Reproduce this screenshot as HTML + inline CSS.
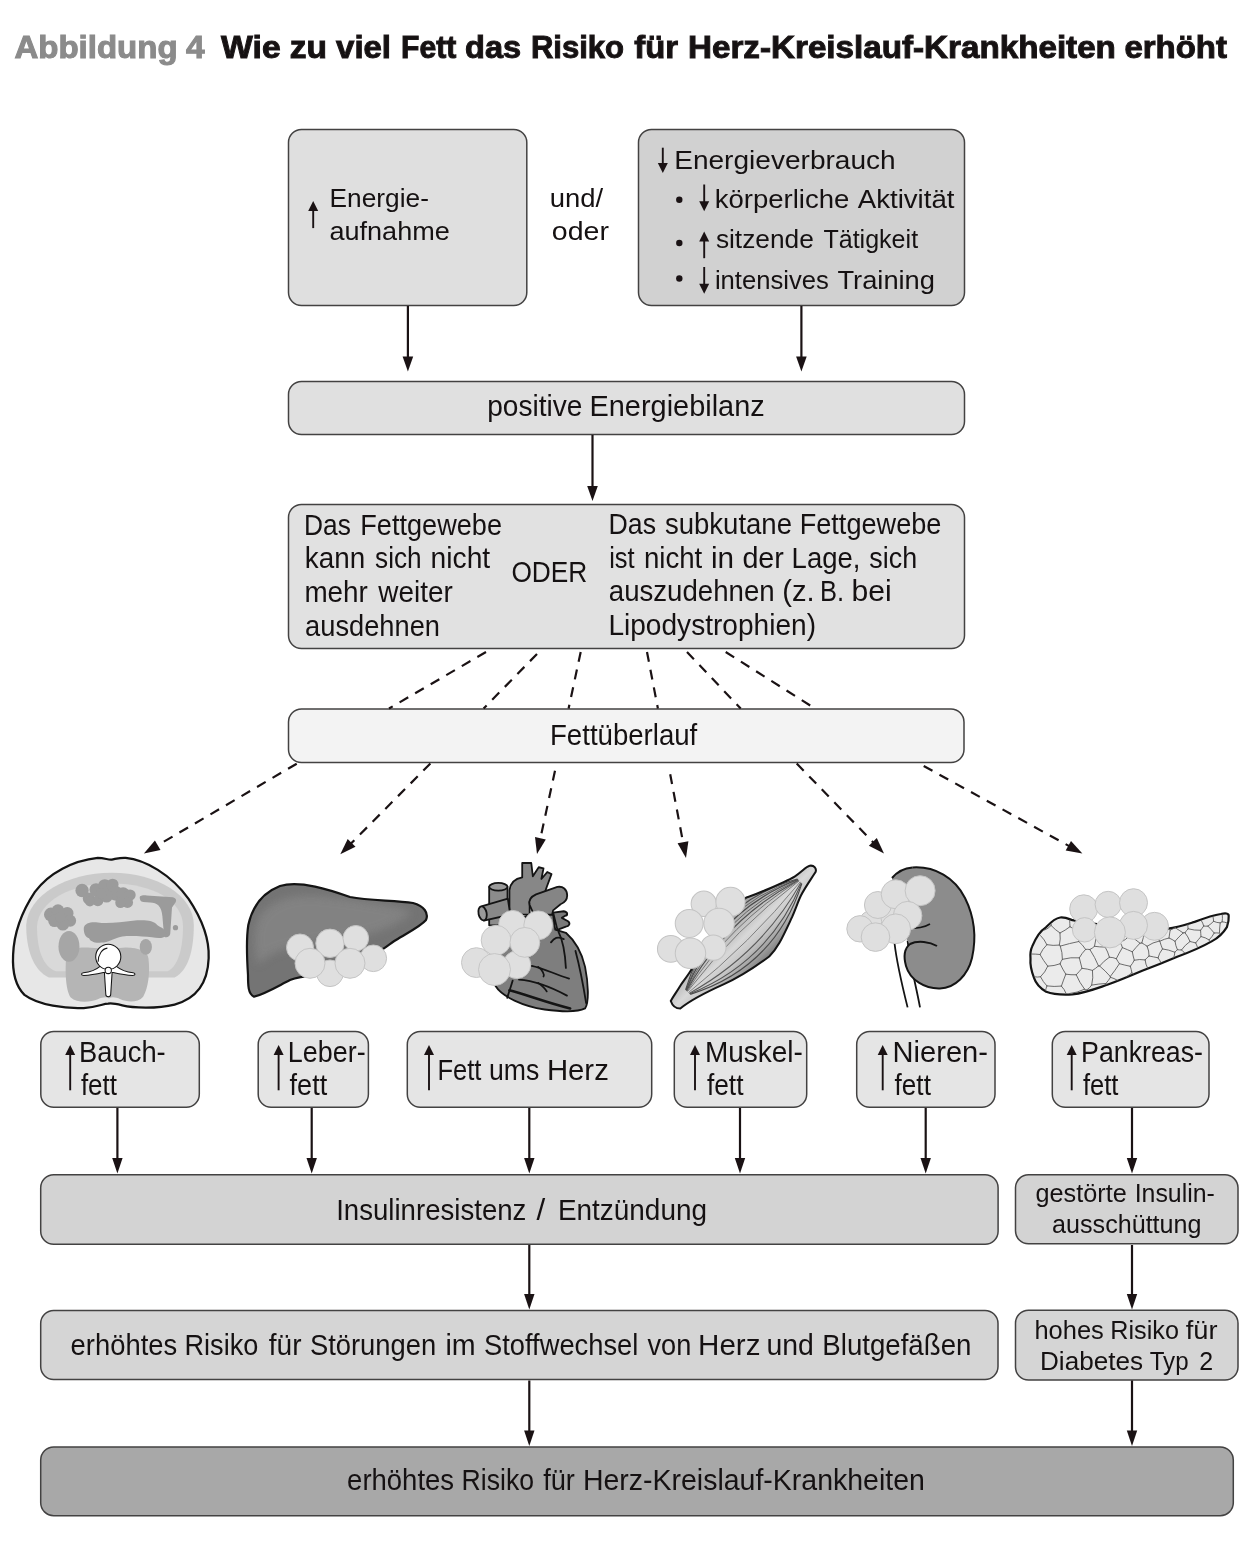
<!DOCTYPE html>
<html><head><meta charset="utf-8"><style>
html,body{margin:0;padding:0;background:#fff;width:1260px;height:1548px;overflow:hidden}
svg{display:block;will-change:transform}
text{font-family:"Liberation Sans",sans-serif;fill:#151112}
.b{stroke:#434242;stroke-width:1.5}
.t{font-size:29px}
.s{font-size:26.5px}
.ln{stroke:#1a1214;stroke-width:2.2;fill:none}
.ah{fill:#1a1214}
.d{stroke:#1a1214;stroke-width:2.2;fill:none;stroke-dasharray:10 8}
</style></head><body>
<svg width="1260" height="1548" viewBox="0 0 1260 1548">
<!-- title -->

<!-- top boxes -->
<rect class="b" x="288.5" y="129.5" width="238.3" height="176" rx="13" fill="#dfdfdf"/>
<rect class="b" x="638.5" y="129.5" width="326" height="176" rx="13" fill="#d1d1d1"/>

<!-- PE / FG / FU -->
<rect class="b" x="288.5" y="381.5" width="676" height="53" rx="13" fill="#e0e0e0"/>
<rect class="b" x="288.5" y="504.5" width="676" height="144" rx="13" fill="#e1e1e1"/>
<rect class="b" x="288.5" y="709" width="675.5" height="53.5" rx="13" fill="#f3f3f3"/>

<!-- small boxes -->
<rect class="b" x="40.8" y="1031.5" width="158.5" height="75.8" rx="13" fill="#e5e5e5"/>
<rect class="b" x="258.2" y="1031.5" width="110.2" height="75.8" rx="13" fill="#e5e5e5"/>
<rect class="b" x="407.3" y="1031.5" width="244.4" height="75.8" rx="13" fill="#e5e5e5"/>
<rect class="b" x="674.3" y="1031.5" width="132.4" height="75.8" rx="13" fill="#e5e5e5"/>
<rect class="b" x="856.7" y="1031.5" width="138.3" height="75.8" rx="13" fill="#e5e5e5"/>
<rect class="b" x="1052.3" y="1031.5" width="156.7" height="75.8" rx="13" fill="#e5e5e5"/>

<!-- lower boxes -->
<rect class="b" x="40.7" y="1174.7" width="957.4" height="69.6" rx="13" fill="#d3d3d3"/>
<rect class="b" x="1015.5" y="1174.8" width="222.5" height="69" rx="13" fill="#d3d3d3"/>
<rect class="b" x="40.7" y="1310.5" width="957.3" height="69" rx="13" fill="#d5d5d5"/>
<rect class="b" x="1015.5" y="1310.2" width="222.5" height="69.8" rx="13" fill="#d5d5d5"/>
<rect class="b" x="40.7" y="1447" width="1192.6" height="68.7" rx="13" fill="#a8a8a8"/>

<!-- solid arrows -->
<g>
<line class="ln" x1="407.9" y1="306" x2="407.9" y2="358"/><path class="ah" d="M402.6 356.4 L413.2 356.4 L407.9 371.5Z"/>
<line class="ln" x1="801.4" y1="306" x2="801.4" y2="358"/><path class="ah" d="M796.1 356.4 L806.7 356.4 L801.4 371.5Z"/>
<line class="ln" x1="592.5" y1="435" x2="592.5" y2="488"/><path class="ah" d="M587.2 486.1 L597.8 486.1 L592.5 501Z"/>

<line class="ln" x1="117.4" y1="1108" x2="117.4" y2="1160"/><path class="ah" d="M112.2 1158.1 L122.6 1158.1 L117.4 1173.5Z"/>
<line class="ln" x1="311.7" y1="1108" x2="311.7" y2="1160"/><path class="ah" d="M306.5 1158.1 L316.9 1158.1 L311.7 1173.5Z"/>
<line class="ln" x1="529.3" y1="1108" x2="529.3" y2="1160"/><path class="ah" d="M524.1 1158.1 L534.5 1158.1 L529.3 1173.5Z"/>
<line class="ln" x1="740" y1="1108" x2="740" y2="1160"/><path class="ah" d="M734.8 1158.1 L745.2 1158.1 L740 1173.5Z"/>
<line class="ln" x1="925.7" y1="1108" x2="925.7" y2="1160"/><path class="ah" d="M920.5 1158.1 L930.9 1158.1 L925.7 1173.5Z"/>
<line class="ln" x1="1132" y1="1108" x2="1132" y2="1160"/><path class="ah" d="M1126.8 1158.1 L1137.2 1158.1 L1132 1173.5Z"/>

<line class="ln" x1="529.3" y1="1245" x2="529.3" y2="1296"/><path class="ah" d="M524.1 1294 L534.5 1294 L529.3 1309.5Z"/>
<line class="ln" x1="1132" y1="1245" x2="1132" y2="1296"/><path class="ah" d="M1126.8 1294 L1137.2 1294 L1132 1309.5Z"/>
<line class="ln" x1="529.3" y1="1380.5" x2="529.3" y2="1432"/><path class="ah" d="M524.1 1430.5 L534.5 1430.5 L529.3 1446Z"/>
<line class="ln" x1="1132" y1="1380.5" x2="1132" y2="1432"/><path class="ah" d="M1126.8 1430.5 L1137.2 1430.5 L1132 1446Z"/>
</g>

<!-- dashed lines FG -> FU -->
<g>
<line class="d" x1="486" y1="652" x2="389" y2="708.5"/>
<line class="d" x1="537" y1="654" x2="483.6" y2="708.5"/>
<line class="d" x1="580.7" y1="652" x2="568.6" y2="708.5"/>
<line class="d" x1="647" y1="652" x2="657.9" y2="708.5"/>
<line class="d" x1="687" y1="652" x2="740.7" y2="708.5"/>
<line class="d" x1="725.7" y1="652" x2="815" y2="708.5"/>
</g>

<!-- dashed FU -> organs -->
<g>
<line class="d" x1="296.7" y1="763.7" x2="156.0" y2="846.3"/>
<path class="ah" d="M154.9 840.6 L160.5 850.0 L143.9 853.4Z"/>
<line class="d" x1="430.4" y1="763.5" x2="350.2" y2="844.3"/>
<path class="ah" d="M347.7 839.0 L355.5 846.7 L340.3 854.2Z"/>
<line class="d" x1="555.0" y1="770.7" x2="540.0" y2="840.2"/>
<path class="ah" d="M535.0 837.1 L545.8 839.4 L537.0 853.9Z"/>
<line class="d" x1="670.2" y1="774.2" x2="683.4" y2="844.2"/>
<path class="ah" d="M677.6 843.3 L688.4 841.3 L686.0 858.0Z"/>
<line class="d" x1="796.7" y1="763.5" x2="874.2" y2="843.4"/>
<path class="ah" d="M868.9 845.8 L876.8 838.1 L884.0 853.4Z"/>
<line class="d" x1="923.7" y1="766.0" x2="1070.1" y2="846.6"/>
<path class="ah" d="M1065.7 850.5 L1071.0 840.9 L1082.4 853.4Z"/>
</g>
<g>
<line class="ln" x1="313.2" y1="209.9" x2="313.2" y2="228.1" style="stroke-width:1.9"/><path class="ah" d="M308.2 210.9 L318.2 210.9 L313.2 200.9Z"/>
<line class="ln" x1="662.8" y1="147.7" x2="662.8" y2="164.0" style="stroke-width:1.9"/><path class="ah" d="M657.8 163.0 L667.8 163.0 L662.8 173.0Z"/>
<line class="ln" x1="704.2" y1="184.5" x2="704.2" y2="202.2" style="stroke-width:1.9"/><path class="ah" d="M699.2 201.2 L709.2 201.2 L704.2 211.2Z"/>
<line class="ln" x1="704.2" y1="240.5" x2="704.2" y2="258.2" style="stroke-width:1.9"/><path class="ah" d="M699.2 241.5 L709.2 241.5 L704.2 231.5Z"/>
<line class="ln" x1="704.2" y1="267.0" x2="704.2" y2="284.7" style="stroke-width:1.9"/><path class="ah" d="M699.2 283.7 L709.2 283.7 L704.2 293.7Z"/>
<circle cx="679.3" cy="199.8" r="3.2" class="ah"/>
<circle cx="679.3" cy="243.0" r="3.2" class="ah"/>
<circle cx="679.3" cy="278.5" r="3.2" class="ah"/>
<line class="ln" x1="70.2" y1="1054.0" x2="70.2" y2="1090.3" style="stroke-width:1.9"/><path class="ah" d="M65.2 1055.0 L75.2 1055.0 L70.2 1045.0Z"/>
<line class="ln" x1="278.6" y1="1054.0" x2="278.6" y2="1090.3" style="stroke-width:1.9"/><path class="ah" d="M273.6 1055.0 L283.6 1055.0 L278.6 1045.0Z"/>
<line class="ln" x1="429.0" y1="1054.0" x2="429.0" y2="1090.3" style="stroke-width:1.9"/><path class="ah" d="M424.0 1055.0 L434.0 1055.0 L429.0 1045.0Z"/>
<line class="ln" x1="695.0" y1="1054.0" x2="695.0" y2="1090.3" style="stroke-width:1.9"/><path class="ah" d="M690.0 1055.0 L700.0 1055.0 L695.0 1045.0Z"/>
<line class="ln" x1="882.7" y1="1054.0" x2="882.7" y2="1090.3" style="stroke-width:1.9"/><path class="ah" d="M877.7 1055.0 L887.7 1055.0 L882.7 1045.0Z"/>
<line class="ln" x1="1071.7" y1="1054.0" x2="1071.7" y2="1090.3" style="stroke-width:1.9"/><path class="ah" d="M1066.7 1055.0 L1076.7 1055.0 L1071.7 1045.0Z"/>
</g>
<!-- ORGANS -->
<defs>
<filter id="soft" x="-20%" y="-20%" width="140%" height="140%"><feGaussianBlur stdDeviation="4"/></filter>
<radialGradient id="fat" cx="0.5" cy="0.5" r="0.5">
<stop offset="0" stop-color="#e4e4e4"/><stop offset="1" stop-color="#d6d6d6"/>
</radialGradient>
<linearGradient id="musc" x1="0" y1="0" x2="1" y2="1">
<stop offset="0" stop-color="#b4b4b4"/><stop offset="0.45" stop-color="#dadada"/><stop offset="0.6" stop-color="#e9e9e9"/><stop offset="1" stop-color="#9a9a9a"/>
</linearGradient>
</defs>
<g id="abd" transform="translate(0 850) scale(0.17461)">
<path d="M560 45 C600 45 620 58 640 55 C660 52 690 42 720 45 C830 55 980 140 1080 280 C1160 400 1200 520 1195 620 C1190 760 1130 850 1000 885 C900 910 760 905 700 890 C660 880 640 875 620 880 C590 880 560 900 480 905 C380 910 220 890 140 830 C90 780 70 700 75 600 C80 480 120 360 200 240 C280 130 420 60 560 45Z" fill="#e7e7e7" stroke="#141414" stroke-width="13"/>
<path d="M150 430 C160 260 380 130 640 130 C900 130 1110 260 1110 430 C1110 570 1080 690 1000 730 L280 730 C190 690 150 570 150 430Z" fill="#cacaca"/>
<path d="M212 435 C222 295 400 192 640 192 C880 192 1048 295 1048 435 C1048 565 1020 665 960 695 L320 695 C242 665 212 565 212 435Z" fill="#d9d9d9"/>
<path d="M380 600 C390 565 450 555 520 560 L610 565 L630 565 L720 558 C800 560 845 580 850 620 C860 700 850 790 820 840 C790 875 730 872 690 855 C660 842 640 840 625 850 C610 840 590 842 560 855 C520 872 440 878 405 845 C375 800 372 690 380 600Z" fill="#b5b5b5"/>
<g fill="#9b9b9b"><circle cx="470" cy="232" r="38"/><circle cx="508" cy="278" r="34"/><circle cx="550" cy="228" r="38"/><circle cx="600" cy="205" r="38"/><circle cx="645" cy="198" r="34"/><circle cx="662" cy="248" r="42"/><circle cx="705" cy="252" r="38"/><circle cx="745" cy="258" r="32"/><circle cx="730" cy="300" r="32"/><circle cx="690" cy="302" r="30"/><circle cx="560" cy="290" r="32"/><circle cx="515" cy="295" r="28"/><circle cx="610" cy="265" r="36"/><circle cx="580" cy="250" r="30"/><circle cx="292" cy="370" r="40"/><circle cx="332" cy="347" r="36"/><circle cx="385" cy="362" r="36"/><circle cx="402" cy="405" r="34"/><circle cx="360" cy="425" r="36"/><circle cx="312" cy="405" r="36"/><circle cx="345" cy="385" r="30"/>
<path d="M800 270 C800 262 820 258 840 260 L990 270 C1010 275 1012 290 1005 300 L985 330 L975 480 C972 500 950 505 940 495 L930 380 C925 320 900 300 860 300 L820 298 C805 296 800 285 800 270Z"/>
<path d="M480 445 C485 420 520 410 560 415 C620 425 700 410 760 405 C820 400 880 400 900 430 C920 445 960 455 950 490 C935 510 900 505 870 500 C820 495 760 490 700 495 C650 505 620 530 580 530 C540 535 515 520 510 505 C490 500 478 475 480 445Z"/>
<circle cx="1005" cy="445" r="15"/>
</g>
<ellipse cx="395" cy="552" rx="60" ry="88" fill="#a6a6a6"/>
<ellipse cx="835" cy="555" rx="35" ry="45" fill="#a6a6a6"/>
<g fill="#fff" stroke="#151515" stroke-width="6">
<path d="M575 665 C545 690 510 700 478 703 C463 705 463 719 480 719 C520 717 560 709 592 702 L598 702 L606 828 C607 844 633 844 634 828 L642 702 L648 702 C680 709 720 717 760 719 C777 719 777 705 762 703 C730 700 695 690 665 665Z"/>
<circle cx="620" cy="612" r="72"/>
<path d="M562 640 C562 600 585 565 615 562" fill="none"/>
<circle cx="620" cy="690" r="18"/>
</g>
</g>

<g id="liver">
<clipPath id="lclip"><path d="M248.3 925 C252 908 262 893 280 886 C300 880 330 890 350 897 C370 901 395 900 413 903 C424 906 429 913 426 920 C420 927 405 934 396 940 C385 947 370 960 346.7 970 C325 976 305 974 290 980 C278 986 265 994 254 996.7 C248 994 248 985 248 975 C247 960 246 940 248.3 925Z"/></clipPath>
<path d="M248.3 925 C252 908 262 893 280 886 C300 880 330 890 350 897 C370 901 395 900 413 903 C424 906 429 913 426 920 C420 927 405 934 396 940 C385 947 370 960 346.7 970 C325 976 305 974 290 980 C278 986 265 994 254 996.7 C248 994 248 985 248 975 C247 960 246 940 248.3 925Z" fill="#747474"/>
<g clip-path="url(#lclip)"><path d="M256 925 C262 905 285 893 320 896 C360 900 395 905 412 912 C395 928 370 936 335 940 C300 944 270 950 258 965 C254 950 254 935 256 925Z" fill="#858585" opacity="0.85" filter="url(#soft)"/></g>
<path d="M248.3 925 C252 908 262 893 280 886 C300 880 330 890 350 897 C370 901 395 900 413 903 C424 906 429 913 426 920 C420 927 405 934 396 940 C385 947 370 960 346.7 970 C325 976 305 974 290 980 C278 986 265 994 254 996.7 C248 994 248 985 248 975 C247 960 246 940 248.3 925Z" fill="none" stroke="#141414" stroke-width="2.2"/>
<g fill="#dfdfdf" stroke="#c4c4c4" stroke-width="1">
<circle cx="300" cy="947.5" r="13.5"/>
<circle cx="330" cy="943.3" r="14.2"/>
<circle cx="355.8" cy="938.3" r="12.8"/>
<circle cx="373.3" cy="958.3" r="13.3"/>
<circle cx="330" cy="973.3" r="13.3"/>
<circle cx="310" cy="963.3" r="15"/>
<circle cx="350" cy="963.3" r="15"/>
</g>
</g>

<g id="heart" transform="translate(470 855) scale(0.10655)" stroke="#141414" stroke-width="17" stroke-linejoin="round">
<path d="M240 1230 C300 1330 500 1420 700 1450 C850 1470 1000 1480 1080 1440 C1120 1380 1110 1200 1080 1050 C1050 920 980 800 900 730 L800 700 L780 560 L570 560 L400 620 L300 700 L200 900 Z" fill="#7e7e7e"/>
<path d="M180 300 L180 660 L352 660 L352 300 Z" fill="#8c8c8c"/>
<ellipse cx="266" cy="298" rx="86" ry="36" fill="#9a9a9a"/>
<path d="M370 560 L370 330 C380 260 430 220 490 210 L490 75 L575 75 L590 200 L645 115 L690 125 L670 225 L725 160 L765 180 L720 300 L700 360 L600 400 L560 450 L560 560 Z" fill="#878787"/>
<path d="M115 480 L355 410 L378 560 L130 615 Z" fill="#888"/>
<ellipse cx="118" cy="548" rx="38" ry="67" fill="#9a9a9a" transform="rotate(-12 118 548)"/>
<path d="M560 470 C545 420 575 390 620 370 L820 300 C870 290 912 320 912 380 C912 430 880 450 850 462 L780 520 L770 560 L600 560 Z" fill="#858585"/>
<path d="M780 540 L880 528 C922 535 920 568 890 572 L862 590 L920 622 C946 642 930 672 900 672 L820 702 Z" fill="#7a7a7a"/>
<g fill="none" stroke-linecap="round">
<path d="M830 720 C860 780 890 870 900 1060"/>
<path d="M760 820 C790 780 820 760 880 790"/>
<path d="M580 1040 C680 1060 800 1120 930 1160"/>
<path d="M640 1050 C680 1080 700 1120 690 1140"/>
<path d="M460 1170 C600 1180 780 1250 910 1320"/>
<path d="M640 1200 C680 1230 710 1260 720 1280"/>
<path d="M370 1270 C500 1300 700 1380 940 1440" stroke-width="24"/>
<path d="M400 1180 C380 1250 360 1300 350 1340"/>
<path d="M990 900 C1030 1050 1060 1200 1090 1390"/>
</g>
<g fill="#dfdfdf" stroke="#c4c4c4" stroke-width="9">
<circle cx="400" cy="650" r="130"/>
<circle cx="640" cy="660" r="135"/>
<circle cx="60" cy="1010" r="140"/>
<circle cx="440" cy="1030" r="130"/>
<circle cx="245" cy="800" r="140"/>
<circle cx="515" cy="820" r="140"/>
<circle cx="230" cy="1075" r="150"/>
</g>
</g>

<g id="muscle" transform="translate(660 860) scale(0.12698)">
<linearGradient id="musc3" gradientUnits="userSpaceOnUse" x1="490" y1="490" x2="815" y2="815">
<stop offset="0" stop-color="#a0a0a0"/><stop offset="0.22" stop-color="#bababa"/><stop offset="0.45" stop-color="#d8d8d8"/><stop offset="0.65" stop-color="#c6c6c6"/><stop offset="0.85" stop-color="#9c9c9c"/><stop offset="1" stop-color="#7e7e7e"/>
</linearGradient>
<clipPath id="mclip"><path id="mpath" d="M85 1110 C95 1140 110 1170 160 1170 C220 1120 300 1070 500 980 C600 935 700 880 860 760 C930 690 960 620 1040 450 C1070 380 1090 320 1110 280 C1140 220 1170 180 1225 95 C1235 70 1215 40 1180 45 C1150 50 1110 100 1060 130 C1000 165 940 190 800 250 C740 275 700 290 680 295 C600 360 560 420 520 480 C480 540 440 590 400 640 C350 710 320 750 300 780 C270 830 250 860 230 890 C200 935 180 960 160 990 C130 1040 100 1080 85 1110 Z"/></clipPath>
<path d="M85 1110 C95 1140 110 1170 160 1170 C220 1120 300 1070 500 980 C600 935 700 880 860 760 C930 690 960 620 1040 450 C1070 380 1090 320 1110 280 C1140 220 1170 180 1225 95 C1235 70 1215 40 1180 45 C1150 50 1110 100 1060 130 C1000 165 940 190 800 250 C740 275 700 290 680 295 C600 360 560 420 520 480 C480 540 440 590 400 640 C350 710 320 750 300 780 C270 830 250 860 230 890 C200 935 180 960 160 990 C130 1040 100 1080 85 1110 Z" fill="url(#musc3)"/>
<g clip-path="url(#mclip)" fill="none">
<path d="M202 1022 Q399 343 1082 150" stroke="#4a4a4a" stroke-width="9"/><path d="M204 1024 Q427 371 1084 152" stroke="#5a5a5a" stroke-width="7"/><path d="M206 1026 Q455 400 1086 154" stroke="#4a4a4a" stroke-width="9"/><path d="M208 1028 Q488 432 1088 157" stroke="#5a5a5a" stroke-width="7"/><path d="M210 1030 Q519 463 1090 159" stroke="#505050" stroke-width="8"/><path d="M213 1033 Q554 499 1093 162" stroke="#6a6a6a" stroke-width="7"/><path d="M216 1036 Q597 541 1096 164" stroke="#707070" stroke-width="7"/><path d="M224 1044 Q710 654 1104 172" stroke="#757575" stroke-width="7"/><path d="M230 1050 Q795 739 1110 178" stroke="#5a5a5a" stroke-width="8"/><path d="M234 1054 Q858 803 1114 183" stroke="#505050" stroke-width="8"/><path d="M238 1058 Q904 848 1117 186" stroke="#4a4a4a" stroke-width="9"/>
</g>
<path d="M85 1110 C95 1140 110 1170 160 1170 C220 1120 300 1070 500 980 C600 935 700 880 860 760 C930 690 960 620 1040 450 C1070 380 1090 320 1110 280 C1140 220 1170 180 1225 95 C1235 70 1215 40 1180 45 C1150 50 1110 100 1060 130 C1000 165 940 190 800 250 C740 275 700 290 680 295 C600 360 560 420 520 480 C480 540 440 590 400 640 C350 710 320 750 300 780 C270 830 250 860 230 890 C200 935 180 960 160 990 C130 1040 100 1080 85 1110 Z" fill="none" stroke="#141414" stroke-width="16"/>
<g fill="#dfdfdf" stroke="#c4c4c4" stroke-width="8">
<circle cx="345" cy="345" r="100"/>
<circle cx="555" cy="330" r="115"/>
<circle cx="230" cy="500" r="110"/>
<circle cx="465" cy="500" r="120"/>
<circle cx="85" cy="700" r="105"/>
<circle cx="420" cy="690" r="100"/>
<circle cx="240" cy="735" r="120"/>
</g>
</g>

<g id="kidney">
<path d="M894.5 943 C897 965 902 985 907.6 1007.4 M907.6 940.7 C910 965 916 985 920 1007.4" fill="none" stroke="#141414" stroke-width="1.8"/>
<path d="M912.4 867.5 C935 866 955 878 965 898 C975 918 976 940 972 958 C968 975 955 988 940 988.5 C925 989 910 980 906 966 C903 955 905 948 910 944 L900 930 L892 878 C898 871 905 868 912.4 867.5Z" fill="#8c8c8c"/>
<path d="M912.4 867.5 C935 866 955 878 965 898 C975 918 976 940 972 958 C968 975 955 988 940 988.5 C925 989 910 980 906 966 C903 955 905 948 910 944 C918 940 930 942 937 946" fill="none" stroke="#141414" stroke-width="2"/>
<path d="M892 878 C898 871 905 868 912.4 867.5" fill="none" stroke="#141414" stroke-width="2"/>
<path d="M909 928 C916 929 925 927 930 924" fill="none" stroke="#141414" stroke-width="1.6"/>
<g fill="#dfdfdf" stroke="#c4c4c4" stroke-width="1">
<circle cx="887.4" cy="913.3" r="12.5"/>
<circle cx="870.7" cy="921.7" r="11"/>
<circle cx="877.9" cy="905" r="13.5"/>
<circle cx="895.7" cy="894.3" r="14.5"/>
<circle cx="920.1" cy="890.7" r="15"/>
<circle cx="907.6" cy="915.7" r="14.3"/>
<circle cx="860" cy="928.8" r="13.2"/>
<circle cx="895.7" cy="928.8" r="14.9"/>
<circle cx="875.5" cy="937.1" r="14.3"/>
</g>
</g>

<g id="pancreas">
<path d="M1032.2 946.4 C1036 937 1040 931 1046.2 927.1 C1052 921 1056 918 1060.2 917.5 C1066 917 1069 919 1072.4 920.2 C1100 925 1140 930 1166.7 928.9 C1180 927 1188 924 1194.6 921.9 C1205 918 1214 915 1220.8 914 C1225 913 1229 913 1228.7 916 C1229 920 1228 924 1226.9 927.1 C1222 935 1218 938 1212.1 941.1 C1200 948 1190 952 1177.2 956.8 C1165 962 1155 966 1142.2 970.8 C1130 976 1118 981 1107.3 984.8 C1095 989 1085 993 1072.4 994.4 C1062 995 1052 994 1046.2 991.8 C1040 988 1036 984 1034 977.8 C1031 970 1030 964 1030.5 958.6 C1030 953 1031 949 1032.2 946.4Z" fill="#ebebeb" stroke="#141414" stroke-width="2.2"/>
<path d="M1061.4 986.1Q1064.5 989.2 1066.0 993.3M1065.8 974.2Q1063.4 980.1 1061.4 986.1M1069.2 993.6Q1077.3 992.8 1084.6 989.2M1065.8 974.2Q1071.0 975.0 1076.2 974.8M1076.2 974.8Q1079.4 982.6 1084.6 989.2M1109.4 957.2Q1103.8 960.8 1099.6 966.0M1099.6 966.0Q1105.4 970.8 1110.3 976.5M1116.3 958.7Q1113.0 957.2 1109.4 957.2M1116.3 958.7Q1117.7 961.3 1119.4 963.7M1110.3 976.5Q1115.2 970.3 1119.4 963.7M1061.4 986.1Q1054.1 986.9 1046.9 985.9M1046.9 985.9Q1046.1 988.1 1045.6 990.3M1098.5 965.9Q1095.0 957.3 1089.9 949.5M1098.5 965.9Q1095.7 968.5 1092.5 970.4M1092.5 970.4Q1087.3 968.8 1082.0 968.3M1082.0 968.3Q1080.6 963.0 1079.3 957.8M1079.3 957.8Q1081.9 953.2 1085.6 949.4M1089.9 949.5Q1087.8 949.1 1085.6 949.4M1089.9 949.5Q1092.5 948.3 1094.5 946.3M1109.4 957.2Q1108.0 951.9 1105.2 947.1M1099.6 966.0Q1099.1 965.9 1098.5 965.9M1105.2 947.1Q1099.8 947.1 1094.5 946.3M1113.7 939.3Q1108.6 942.3 1105.2 947.1M1116.3 958.7Q1119.2 953.0 1122.4 947.6M1113.7 939.3Q1117.1 940.8 1120.3 942.7M1122.4 947.6Q1121.8 944.9 1120.3 942.7M1044.6 930.1Q1048.4 928.5 1051.1 925.5M1051.2 924.3Q1051.3 924.9 1051.1 925.5M1046.9 985.9Q1043.0 981.9 1040.5 976.8M1040.5 976.8Q1037.4 977.4 1034.3 976.8M1106.2 984.6Q1106.1 984.0 1105.9 983.5M1105.9 983.5Q1098.7 983.8 1091.7 985.1M1091.7 985.1Q1089.8 988.0 1086.9 989.9M1092.5 970.4Q1093.5 977.9 1091.7 985.1M1110.5 977.3Q1108.5 980.6 1105.9 983.5M1110.3 976.5Q1110.5 976.9 1110.5 977.3M1076.2 974.8Q1079.2 971.6 1082.0 968.3M1084.6 989.2Q1085.7 989.7 1086.9 989.9M1110.5 977.3Q1114.1 978.3 1117.3 980.2M1126.8 976.5Q1129.5 974.8 1131.9 972.8M1119.4 963.7Q1124.8 965.2 1130.3 966.3M1130.3 966.3Q1131.4 969.5 1131.9 972.8M1096.6 931.0Q1096.4 938.8 1094.5 946.3M1096.6 931.0Q1102.0 928.8 1107.8 928.8M1113.7 939.3Q1111.8 935.4 1111.3 931.1M1107.8 928.8Q1109.5 930.0 1111.3 931.1M1089.2 922.4Q1088.9 924.1 1089.3 925.7M1089.3 925.7Q1092.4 929.1 1096.6 931.0M1107.8 928.8Q1107.8 926.5 1107.4 924.2M1040.6 935.6Q1044.6 939.6 1046.9 944.7M1031.6 954.0Q1035.8 954.0 1040.0 954.5M1046.9 944.7Q1042.5 948.9 1040.0 954.5M1040.5 976.8Q1045.2 972.3 1047.8 966.2M1040.0 954.5Q1043.4 960.7 1047.8 966.2M1065.8 974.2Q1062.6 969.2 1060.1 963.8M1047.8 966.2Q1054.2 966.0 1060.1 963.8M1079.3 957.8Q1070.7 957.0 1062.4 959.3M1060.1 963.8Q1060.8 961.3 1062.4 959.3M1060.0 933.0Q1065.3 930.4 1070.0 926.7M1060.0 933.0Q1060.8 939.1 1059.4 945.1M1060.3 946.1Q1059.7 945.7 1059.4 945.1M1060.3 946.1Q1069.4 943.4 1078.8 941.5M1070.0 926.7Q1075.0 929.1 1078.9 932.9M1078.9 932.9Q1078.9 937.2 1078.8 941.5M1069.7 920.1Q1069.7 923.4 1070.0 926.7M1051.1 925.5Q1055.1 929.8 1060.0 933.0M1046.9 944.7Q1053.1 945.9 1059.4 945.1M1062.4 959.3Q1062.5 952.5 1060.3 946.1M1085.6 949.4Q1082.9 944.9 1078.8 941.5M1089.3 925.7Q1083.9 929.0 1078.9 932.9M1122.4 947.6Q1127.4 949.6 1132.3 951.8M1130.3 966.3Q1132.7 963.5 1134.3 960.2M1132.3 951.8Q1133.0 956.0 1134.3 960.2M1131.9 972.8Q1132.5 973.4 1133.2 973.9M1134.3 960.2Q1139.7 958.9 1145.1 959.9M1147.6 968.1Q1145.5 964.3 1145.1 959.9M1111.3 931.1Q1116.3 929.2 1120.1 925.5M1132.3 951.8Q1136.0 947.3 1140.0 943.2M1120.3 942.7Q1126.1 939.8 1130.4 934.9M1130.4 934.9Q1134.7 939.6 1140.0 943.2M1126.4 926.0Q1128.5 927.4 1130.8 928.3M1130.4 934.9Q1130.4 931.6 1130.8 928.3M1130.8 928.3Q1132.1 927.4 1133.5 926.6M1149.1 956.0Q1146.8 957.7 1145.1 959.9M1149.1 956.0Q1153.5 956.9 1158.0 957.8M1158.0 957.8Q1159.7 960.2 1161.0 962.7M1149.1 956.0Q1149.2 950.9 1147.1 946.2M1140.0 943.2Q1140.9 943.0 1141.8 942.9M1147.1 946.2Q1144.5 944.5 1141.8 942.9M1140.7 927.2Q1142.8 930.0 1145.6 932.1M1141.8 942.9Q1143.0 937.3 1145.6 932.1M1173.6 957.7Q1174.8 955.1 1174.8 952.2M1158.0 957.8Q1159.2 952.9 1162.5 948.9M1174.8 952.2Q1168.8 949.7 1162.5 948.9M1147.1 946.2Q1152.7 942.3 1159.4 941.0M1162.5 948.9Q1160.9 945.2 1159.8 941.2M1145.6 932.1Q1150.6 932.1 1155.1 930.0M1154.6 928.4Q1154.8 929.2 1155.1 930.0M1159.4 941.0Q1158.2 935.3 1155.4 930.1M1155.4 930.1Q1156.9 929.5 1158.3 928.7M1183.2 932.9Q1179.2 930.3 1175.2 927.7M1183.2 932.9Q1178.8 936.7 1175.0 941.3M1169.0 938.0Q1172.2 939.3 1175.0 941.3M1169.0 938.0Q1169.5 933.9 1170.2 930.0M1170.2 930.0Q1172.8 929.2 1175.2 927.7M1188.1 928.8Q1186.3 930.6 1185.0 932.7M1185.0 932.7Q1184.1 932.6 1183.2 932.9M1187.9 924.1Q1187.7 926.4 1188.1 928.8M1159.8 941.2Q1164.2 939.0 1169.0 938.0M1174.8 952.2Q1176.2 951.0 1177.4 949.7M1177.4 949.7Q1175.5 945.7 1175.0 941.3M1168.6 928.9Q1169.4 929.4 1170.2 930.0M1190.0 941.5Q1192.8 942.2 1195.7 942.9M1190.0 941.5Q1185.0 944.9 1181.5 949.9M1184.7 952.9Q1182.8 951.7 1181.5 949.9M1197.4 947.0Q1196.6 944.9 1195.7 942.9M1201.0 936.5Q1200.7 933.4 1200.6 930.3M1188.1 928.8Q1194.2 930.5 1200.6 930.3M1201.0 936.5Q1198.3 939.6 1195.7 942.9M1185.0 932.7Q1188.2 936.7 1190.0 941.5M1177.4 949.7Q1179.5 950.1 1181.5 949.9M1209.8 941.6Q1209.6 940.7 1209.1 939.9M1209.1 939.9Q1205.4 937.4 1201.0 936.5M1201.2 920.4Q1203.0 923.0 1203.7 926.0M1207.9 926.1Q1205.8 926.5 1203.7 926.0M1207.9 926.1Q1211.0 924.0 1213.6 921.3M1213.6 921.3Q1213.5 919.0 1213.0 916.9M1200.6 930.3Q1202.1 928.2 1203.7 926.0M1214.2 933.0Q1212.2 936.9 1209.1 939.9M1214.2 933.0Q1211.2 929.4 1207.9 926.1M1214.2 933.0Q1216.8 932.7 1219.4 933.1M1213.6 921.3Q1216.7 922.8 1220.2 922.9M1220.2 922.9Q1219.6 928.0 1219.4 933.1M1222.1 921.8Q1224.6 922.0 1227.0 922.9M1222.1 921.8Q1222.7 918.3 1222.3 914.8M1220.2 922.9Q1221.2 922.5 1222.1 921.8" fill="none" stroke="#5e5e5e" stroke-width="0.9" stroke-linecap="round"/>
<g fill="#dfdfdf" stroke="#c4c4c4" stroke-width="1">
<circle cx="1083.7" cy="908.8" r="14"/>
<circle cx="1108.2" cy="904.4" r="13.1"/>
<circle cx="1133.5" cy="902.7" r="14"/>
<circle cx="1084.6" cy="929.8" r="12.2"/>
<circle cx="1154.5" cy="926.3" r="14"/>
<circle cx="1133.5" cy="925.4" r="14"/>
<circle cx="1109.9" cy="932.4" r="15.5"/>
</g>
</g>

<text x="14.4" y="58.3" font-size="31" font-weight="bold" style="fill:#8b8b8b;stroke:#8b8b8b;stroke-width:1.0" textLength="163.2" lengthAdjust="spacingAndGlyphs">Abbildung</text>
<text x="186.1" y="58.3" font-size="31" font-weight="bold" style="fill:#8b8b8b;stroke:#8b8b8b;stroke-width:1.0" textLength="18.6" lengthAdjust="spacingAndGlyphs">4</text>
<text x="221.1" y="58.3" font-size="31" font-weight="bold" style="stroke:#1d1819;stroke-width:1.0" textLength="59.5" lengthAdjust="spacingAndGlyphs">Wie</text>
<text x="289.7" y="58.3" font-size="31" font-weight="bold" style="stroke:#1d1819;stroke-width:1.0" textLength="37.2" lengthAdjust="spacingAndGlyphs">zu</text>
<text x="336.1" y="58.3" font-size="31" font-weight="bold" style="stroke:#1d1819;stroke-width:1.0" textLength="54.9" lengthAdjust="spacingAndGlyphs">viel</text>
<text x="401.0" y="58.3" font-size="31" font-weight="bold" style="stroke:#1d1819;stroke-width:1.0" textLength="55.2" lengthAdjust="spacingAndGlyphs">Fett</text>
<text x="465.0" y="58.3" font-size="31" font-weight="bold" style="stroke:#1d1819;stroke-width:1.0" textLength="56.1" lengthAdjust="spacingAndGlyphs">das</text>
<text x="530.9" y="58.3" font-size="31" font-weight="bold" style="stroke:#1d1819;stroke-width:1.0" textLength="93.2" lengthAdjust="spacingAndGlyphs">Risiko</text>
<text x="634.3" y="58.3" font-size="31" font-weight="bold" style="stroke:#1d1819;stroke-width:1.0" textLength="43.7" lengthAdjust="spacingAndGlyphs">für</text>
<text x="688.0" y="58.3" font-size="31" font-weight="bold" style="stroke:#1d1819;stroke-width:1.0" textLength="427.9" lengthAdjust="spacingAndGlyphs">Herz-Kreislauf-Krankheiten</text>
<text x="1124.4" y="58.3" font-size="31" font-weight="bold" style="stroke:#1d1819;stroke-width:1.0" textLength="102.5" lengthAdjust="spacingAndGlyphs">erhöht</text>
<text x="329.6" y="207.4" font-size="26.5" textLength="99.3" lengthAdjust="spacingAndGlyphs">Energie-</text>
<text x="329.4" y="239.6" font-size="26.5" textLength="120.4" lengthAdjust="spacingAndGlyphs">aufnahme</text>
<text x="549.8" y="207.4" font-size="26.5" textLength="53.4" lengthAdjust="spacingAndGlyphs">und/</text>
<text x="551.8" y="239.6" font-size="26.5" textLength="57.1" lengthAdjust="spacingAndGlyphs">oder</text>
<text x="674.2" y="169.3" font-size="26.5" textLength="221.5" lengthAdjust="spacingAndGlyphs">Energieverbrauch</text>
<text x="714.7" y="208.1" font-size="26.5" textLength="134.7" lengthAdjust="spacingAndGlyphs">körperliche</text>
<text x="857.7" y="208.1" font-size="26.5" textLength="96.8" lengthAdjust="spacingAndGlyphs">Aktivität</text>
<text x="715.9" y="248" font-size="26.5" textLength="97.9" lengthAdjust="spacingAndGlyphs">sitzende</text>
<text x="823.4" y="248" font-size="26.5" textLength="94.7" lengthAdjust="spacingAndGlyphs">Tätigkeit</text>
<text x="714.9" y="288.7" font-size="26.5" textLength="113.9" lengthAdjust="spacingAndGlyphs">intensives</text>
<text x="837.4" y="288.7" font-size="26.5" textLength="97.6" lengthAdjust="spacingAndGlyphs">Training</text>
<text x="487.2" y="416.2" font-size="29" textLength="95.3" lengthAdjust="spacingAndGlyphs">positive</text>
<text x="589.5" y="416.2" font-size="29" textLength="175.2" lengthAdjust="spacingAndGlyphs">Energiebilanz</text>
<text x="304.1" y="534.7" font-size="29" textLength="46.8" lengthAdjust="spacingAndGlyphs">Das</text>
<text x="360.3" y="534.7" font-size="29" textLength="141.7" lengthAdjust="spacingAndGlyphs">Fettgewebe</text>
<text x="304.8" y="568" font-size="29" textLength="60.3" lengthAdjust="spacingAndGlyphs">kann</text>
<text x="375.1" y="568" font-size="29" textLength="46.6" lengthAdjust="spacingAndGlyphs">sich</text>
<text x="430.6" y="568" font-size="29" textLength="59.6" lengthAdjust="spacingAndGlyphs">nicht</text>
<text x="304.4" y="602.2" font-size="29" textLength="63.5" lengthAdjust="spacingAndGlyphs">mehr</text>
<text x="378.3" y="602.2" font-size="29" textLength="74.6" lengthAdjust="spacingAndGlyphs">weiter</text>
<text x="305.1" y="635.5" font-size="29" textLength="134.9" lengthAdjust="spacingAndGlyphs">ausdehnen</text>
<text x="511.4" y="582.3" font-size="29" textLength="75.9" lengthAdjust="spacingAndGlyphs">ODER</text>
<text x="608.5" y="534.4" font-size="29" textLength="47.5" lengthAdjust="spacingAndGlyphs">Das</text>
<text x="664.9" y="534.4" font-size="29" textLength="127.1" lengthAdjust="spacingAndGlyphs">subkutane</text>
<text x="799.7" y="534.4" font-size="29" textLength="141.7" lengthAdjust="spacingAndGlyphs">Fettgewebe</text>
<text x="609.2" y="567.6" font-size="29" textLength="25.5" lengthAdjust="spacingAndGlyphs">ist</text>
<text x="643.9" y="567.6" font-size="29" textLength="58.4" lengthAdjust="spacingAndGlyphs">nicht</text>
<text x="710.9" y="567.6" font-size="29" textLength="23.1" lengthAdjust="spacingAndGlyphs">in</text>
<text x="742.4" y="567.6" font-size="29" textLength="41.5" lengthAdjust="spacingAndGlyphs">der</text>
<text x="791.6" y="567.6" font-size="29" textLength="68.8" lengthAdjust="spacingAndGlyphs">Lage,</text>
<text x="869.3" y="567.6" font-size="29" textLength="47.8" lengthAdjust="spacingAndGlyphs">sich</text>
<text x="608.8" y="601.2" font-size="29" textLength="165.8" lengthAdjust="spacingAndGlyphs">auszudehnen</text>
<text x="782.3" y="601.2" font-size="29" textLength="32.4" lengthAdjust="spacingAndGlyphs">(z.</text>
<text x="820.1" y="601.2" font-size="29" textLength="24.1" lengthAdjust="spacingAndGlyphs">B.</text>
<text x="851.6" y="601.2" font-size="29" textLength="40.2" lengthAdjust="spacingAndGlyphs">bei</text>
<text x="608.4" y="634.6" font-size="29" textLength="207.6" lengthAdjust="spacingAndGlyphs">Lipodystrophien)</text>
<text x="550.0" y="745" font-size="29" textLength="147.3" lengthAdjust="spacingAndGlyphs">Fettüberlauf</text>
<text x="79.1" y="1062.4" font-size="29" textLength="86.6" lengthAdjust="spacingAndGlyphs">Bauch-</text>
<text x="80.9" y="1095.4" font-size="29" textLength="36.1" lengthAdjust="spacingAndGlyphs">fett</text>
<text x="287.8" y="1062.4" font-size="29" textLength="77.8" lengthAdjust="spacingAndGlyphs">Leber-</text>
<text x="289.6" y="1095.4" font-size="29" textLength="37.6" lengthAdjust="spacingAndGlyphs">fett</text>
<text x="705.0" y="1062.4" font-size="29" textLength="97.9" lengthAdjust="spacingAndGlyphs">Muskel-</text>
<text x="706.9" y="1095.4" font-size="29" textLength="36.6" lengthAdjust="spacingAndGlyphs">fett</text>
<text x="892.6" y="1062.4" font-size="29" textLength="95.4" lengthAdjust="spacingAndGlyphs">Nieren-</text>
<text x="894.6" y="1095.4" font-size="29" textLength="36.3" lengthAdjust="spacingAndGlyphs">fett</text>
<text x="1081.1" y="1062.4" font-size="29" textLength="121.8" lengthAdjust="spacingAndGlyphs">Pankreas-</text>
<text x="1082.9" y="1095.4" font-size="29" textLength="35.5" lengthAdjust="spacingAndGlyphs">fett</text>
<text x="437.4" y="1080" font-size="29" textLength="44.0" lengthAdjust="spacingAndGlyphs">Fett</text>
<text x="489.0" y="1080" font-size="29" textLength="50.3" lengthAdjust="spacingAndGlyphs">ums</text>
<text x="546.9" y="1080" font-size="29" textLength="61.9" lengthAdjust="spacingAndGlyphs">Herz</text>
<text x="336.2" y="1220.2" font-size="29" textLength="190.2" lengthAdjust="spacingAndGlyphs">Insulinresistenz</text>
<text x="536.4" y="1220.2" font-size="29" textLength="8.7" lengthAdjust="spacingAndGlyphs">/</text>
<text x="557.9" y="1220.2" font-size="29" textLength="149.1" lengthAdjust="spacingAndGlyphs">Entzündung</text>
<text x="1035.5" y="1202.2" font-size="26.5" textLength="91.2" lengthAdjust="spacingAndGlyphs">gestörte</text>
<text x="1134.7" y="1202.2" font-size="26.5" textLength="80.2" lengthAdjust="spacingAndGlyphs">Insulin-</text>
<text x="1052.1" y="1232.7" font-size="26.5" textLength="149.4" lengthAdjust="spacingAndGlyphs">ausschüttung</text>
<text x="70.6" y="1354.5" font-size="29" textLength="106.6" lengthAdjust="spacingAndGlyphs">erhöhtes</text>
<text x="184.5" y="1354.5" font-size="29" textLength="73.8" lengthAdjust="spacingAndGlyphs">Risiko</text>
<text x="268.8" y="1354.5" font-size="29" textLength="32.7" lengthAdjust="spacingAndGlyphs">für</text>
<text x="309.9" y="1354.5" font-size="29" textLength="126.2" lengthAdjust="spacingAndGlyphs">Störungen</text>
<text x="445.4" y="1354.5" font-size="29" textLength="30.2" lengthAdjust="spacingAndGlyphs">im</text>
<text x="484.0" y="1354.5" font-size="29" textLength="154.3" lengthAdjust="spacingAndGlyphs">Stoffwechsel</text>
<text x="647.5" y="1354.5" font-size="29" textLength="43.8" lengthAdjust="spacingAndGlyphs">von</text>
<text x="698.0" y="1354.5" font-size="29" textLength="62.5" lengthAdjust="spacingAndGlyphs">Herz</text>
<text x="766.5" y="1354.5" font-size="29" textLength="47.4" lengthAdjust="spacingAndGlyphs">und</text>
<text x="822.3" y="1354.5" font-size="29" textLength="149.1" lengthAdjust="spacingAndGlyphs">Blutgefäßen</text>
<text x="1034.4" y="1338.8" font-size="26.5" textLength="69.4" lengthAdjust="spacingAndGlyphs">hohes</text>
<text x="1110.3" y="1338.8" font-size="26.5" textLength="68.6" lengthAdjust="spacingAndGlyphs">Risiko</text>
<text x="1185.8" y="1338.8" font-size="26.5" textLength="31.7" lengthAdjust="spacingAndGlyphs">für</text>
<text x="1040.0" y="1369.8" font-size="26.5" textLength="103.1" lengthAdjust="spacingAndGlyphs">Diabetes</text>
<text x="1149.7" y="1369.8" font-size="26.5" textLength="38.9" lengthAdjust="spacingAndGlyphs">Typ</text>
<text x="1199.2" y="1369.8" font-size="26.5" textLength="13.9" lengthAdjust="spacingAndGlyphs">2</text>
<text x="347.1" y="1489.6" font-size="29" textLength="107.0" lengthAdjust="spacingAndGlyphs">erhöhtes</text>
<text x="461.6" y="1489.6" font-size="29" textLength="72.4" lengthAdjust="spacingAndGlyphs">Risiko</text>
<text x="543.2" y="1489.6" font-size="29" textLength="31.7" lengthAdjust="spacingAndGlyphs">für</text>
<text x="582.9" y="1489.6" font-size="29" textLength="342.0" lengthAdjust="spacingAndGlyphs">Herz-Kreislauf-Krankheiten</text>
</svg>
</body></html>
